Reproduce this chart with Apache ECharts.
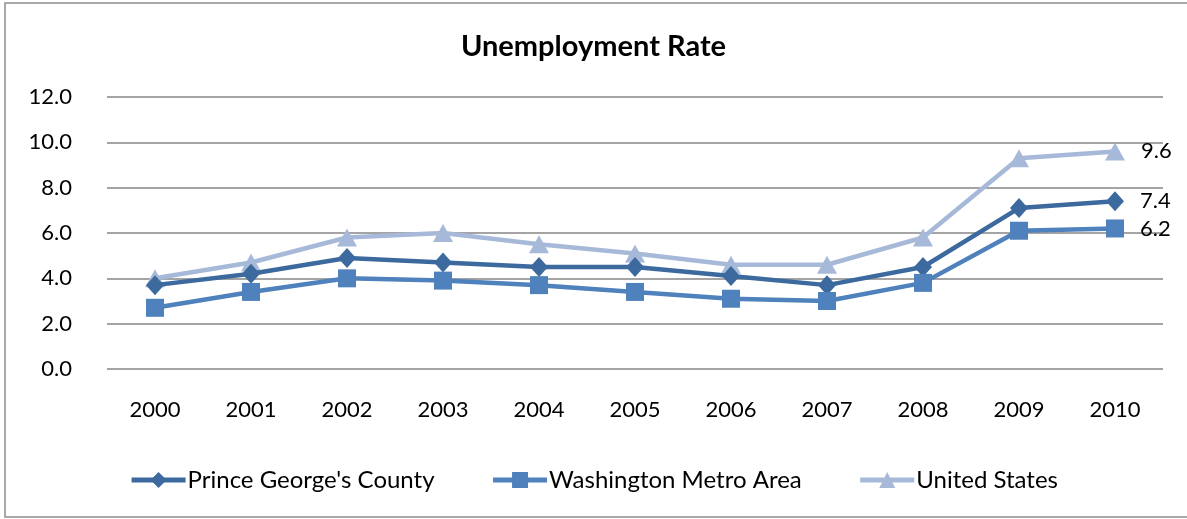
<!DOCTYPE html>
<html><head><meta charset="utf-8">
<script src="https://cdn.jsdelivr.net/npm/echarts@6/dist/echarts.min.js"></script>
<style>html,body{margin:0;padding:0;background:#fff}#c{width:1187px;height:519px}</style>
</head><body><div id="c"></div>
<script>
const years = ['2000','2001','2002','2003','2004','2005','2006','2007','2008','2009','2010'];
const pgCounty = [3.7,4.2,4.9,4.7,4.5,4.5,4.1,3.7,4.5,7.1,7.4];
const washMetro = [2.7,3.4,4.0,3.9,3.7,3.4,3.1,3.0,3.8,6.1,6.2];
const unitedStates = [4.0,4.7,5.8,6.0,5.5,5.1,4.6,4.6,5.8,9.3,9.6];
const seriesNames = ["Prince George's County","Washington Metro Area","United States"];

const FONT = 'Lato, "Open Sans", sans-serif';
const chart = echarts.init(document.getElementById('c'));
function lastLabel(){
  return {show:true, position:'right', distance:16, fontSize:22, fontFamily:FONT, color:'#000',
    formatter: p => p.dataIndex === years.length-1 ? p.value.toFixed(1) : ''};
}
chart.setOption({
  animation:false,
  graphic:[{type:'rect', shape:{x:5,y:3,width:1190,height:514}, style:{fill:'none', stroke:'#8c8c8c', lineWidth:1.5}, silent:true}],
  title:{text:'Unemployment Rate', left:'center', top:27, textStyle:{fontFamily:FONT, fontWeight:'bold', fontSize:29, color:'#000'}},
  grid:{left:107, right:24, top:97, height:272},
  xAxis:{type:'category', data:years, boundaryGap:true,
    axisLine:{show:false}, axisTick:{show:false},
    axisLabel:{fontFamily:FONT, fontSize:22, color:'#000', margin:30}},
  yAxis:{type:'value', min:0, max:12, interval:2,
    axisLabel:{fontFamily:FONT, fontSize:22, color:'#000', margin:35, formatter:v=>v.toFixed(1)},
    splitLine:{lineStyle:{color:'#868686', width:1.5}}},
  legend:{bottom:22, left:'center', itemWidth:54, itemHeight:20, itemGap:56,
    padding:[5,0,5,18],
    lineStyle:{width:5},
    textStyle:{fontFamily:FONT, fontSize:24, color:'#000', padding:[0,0,0,-3]},
    data:seriesNames},
  series:[
    {name:seriesNames[2], type:'line', data:unitedStates, symbol:'triangle', symbolSize:[20,18],
      lineStyle:{width:4.5, color:'#a7b9d8'}, itemStyle:{color:'#a7b9d8'}, label:lastLabel(), z:2},
    {name:seriesNames[0], type:'line', data:pgCounty, symbol:'diamond', symbolSize:[18,20],
      lineStyle:{width:4.5, color:'#3d6a9e'}, itemStyle:{color:'#3d6a9e'}, label:lastLabel(), z:3},
    {name:seriesNames[1], type:'line', data:washMetro, symbol:'rect', symbolSize:18,
      lineStyle:{width:4.5, color:'#4f81bd'}, itemStyle:{color:'#4f81bd'}, label:lastLabel(), z:4}
  ]
});
</script></body></html>
